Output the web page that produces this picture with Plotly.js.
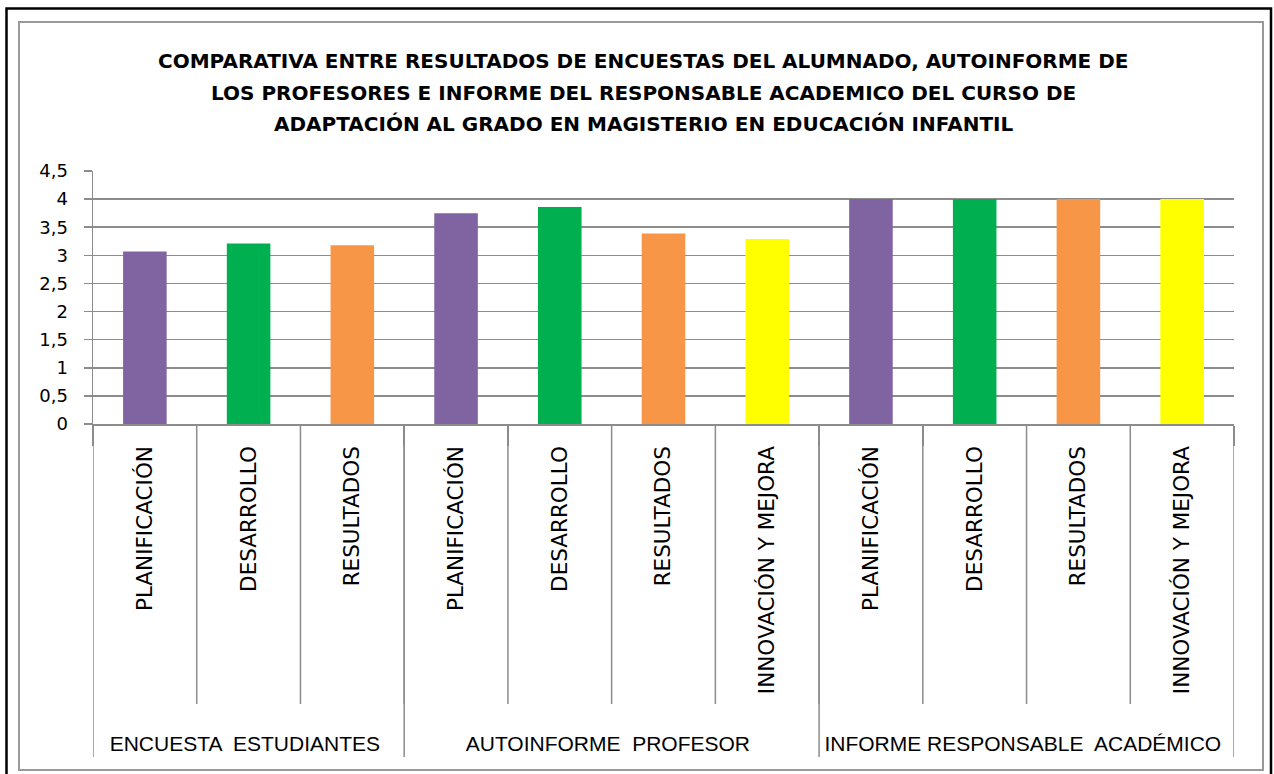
<!DOCTYPE html>
<html>
<head>
<meta charset="utf-8">
<script src="https://cdn.plot.ly/plotly-3.0.1.min.js"></script>
<style>
  body { margin: 0; background: #fff; }
  #chart { width: 1274px; height: 774px; }
</style>
</head>
<body>
<div id="chart"></div>
<script>
// data
var tituloLineas = [
  'COMPARATIVA ENTRE RESULTADOS DE ENCUESTAS DEL ALUMNADO, AUTOINFORME DE',
  'LOS PROFESORES E INFORME DEL RESPONSABLE ACADEMICO DEL CURSO DE',
  'ADAPTACIÓN AL GRADO EN MAGISTERIO EN EDUCACIÓN INFANTIL'
];
var grupos = ['ENCUESTA  ESTUDIANTES', 'AUTOINFORME  PROFESOR', 'INFORME RESPONSABLE  ACADÉMICO'];
var criteriosEncuesta = ['PLANIFICACIÓN', 'DESARROLLO', 'RESULTADOS'];
var criteriosProfesor = ['PLANIFICACIÓN', 'DESARROLLO', 'RESULTADOS', 'INNOVACIÓN Y MEJORA'];
var criteriosResponsable = ['PLANIFICACIÓN', 'DESARROLLO', 'RESULTADOS', 'INNOVACIÓN Y MEJORA'];
var valoresEncuesta = [3.07, 3.21, 3.18];
var valoresProfesor = [3.75, 3.86, 3.39, 3.29];
var valoresResponsable = [4, 4, 4, 4];
var coloresCriterio = {
  'PLANIFICACIÓN': '#8064A2',
  'DESARROLLO': '#00B050',
  'RESULTADOS': '#F79646',
  'INNOVACIÓN Y MEJORA': '#FFFF00'
};

var W = 1274, H = 774;
var mL = 93, mR = 40, mT = 171, mB = 350;
var plotW = W - mL - mR, plotH = H - mT - mB;
function px(x) { return (x - mL) / plotW; }
function py(y) { return (H - mB - y) / plotH; }

// group names: own font, pushed one line down below the rotated labels
function etiquetaGrupo(g) {
  return '\u00a0<br><span style="font-family:\'Liberation Sans\', Arial, sans-serif;font-size:21px">' + g + '</span>';
}

var series = [[criteriosEncuesta, valoresEncuesta], [criteriosProfesor, valoresProfesor], [criteriosResponsable, valoresResponsable]];
var xGrupo = [], xCrit = [], yVal = [], colores = [], limitesGrupo = [-0.5];
series.forEach(function (par, g) {
  par[0].forEach(function (c, i) {
    xGrupo.push(etiquetaGrupo(grupos[g]));
    xCrit.push(c);
    yVal.push(par[1][i]);
    colores.push(coloresCriterio[c]);
  });
  limitesGrupo.push(xCrit.length - 0.5);
});
var n = xCrit.length;

var trace = {
  type: 'bar',
  x: [xGrupo, xCrit],
  y: yVal,
  width: 0.42,
  marker: { color: colores },
  hoverinfo: 'x+y',
  showlegend: false
};

var gris = '#8c8c8c';
var shapes = [];
// long separators between categories, under the axis
for (var i = 0; i < n - 1; i++) {
  shapes.push({ type: 'line', xref: 'x2', yref: 'paper', x0: i + 0.5, x1: i + 0.5,
    y0: 0, y1: py(704), line: { color: gris, width: 1.5 } });
}
// group dividers, down through the group labels
limitesGrupo.forEach(function (b) {
  shapes.push({ type: 'line', xref: 'x2', yref: 'paper', x0: b, x1: b,
    y0: 0, y1: py(757), line: { color: gris, width: 1.5 } });
});
// chart border and outer frame
shapes.push({ type: 'rect', xref: 'paper', yref: 'paper', x0: px(19), x1: px(1263), y0: py(22), y1: py(770),
  line: { color: '#999999', width: 2 } });
shapes.push({ type: 'path', xref: 'paper', yref: 'paper',
  path: 'M' + px(6.5) + ',' + py(780) + ' L' + px(6.5) + ',' + py(8.5) + ' L' + px(1271) + ',' + py(8.5) + ' L' + px(1271) + ',' + py(780),
  line: { color: '#000000', width: 2.5 } });

var annotations = tituloLineas.map(function (t, k) {
  return { text: '<b>' + t + '</b>', xref: 'paper', yref: 'paper', x: px(643), y: py(61 + 31.5 * k),
    showarrow: false, xanchor: 'center', yanchor: 'middle',
    font: { family: 'DejaVu Sans, sans-serif', size: 20, color: '#000' } };
});

var layout = {
  width: W, height: H,
  margin: { l: mL, r: mR, t: mT, b: mB },
  paper_bgcolor: '#fff', plot_bgcolor: '#fff',
  separators: ',.',
  font: { family: 'DejaVu Sans, sans-serif', color: '#000' },
  xaxis: {
    type: 'multicategory',
    tickson: 'boundaries',
    ticks: 'outside', ticklen: 20, tickcolor: gris, tickwidth: 1.5,
    ticklabelstandoff: 12,
    tickangle: -90,
    tickfont: { family: 'DejaVu Sans, sans-serif', size: 21.5, color: '#000' },
    showline: true, linecolor: gris, linewidth: 1.5,
    showdividers: false,
    showgrid: false, zeroline: false
  },
  xaxis2: { overlaying: 'x', range: [-0.5, n - 0.5], visible: false },
  yaxis: {
    range: [0, 4.5], dtick: 0.5,
    ticks: 'outside', ticklen: 8, tickcolor: gris, tickwidth: 1.5,
    ticklabelstandoff: 12,
    tickfont: { family: 'DejaVu Sans, sans-serif', size: 18, color: '#000' },
    showgrid: true, gridcolor: gris, gridwidth: 1.5,
    showline: true, linecolor: gris, linewidth: 1.5,
    zeroline: false
  },
  shapes: shapes,
  annotations: annotations
};

Plotly.newPlot('chart', [trace], layout, { staticPlot: true });
</script>
</body>
</html>
